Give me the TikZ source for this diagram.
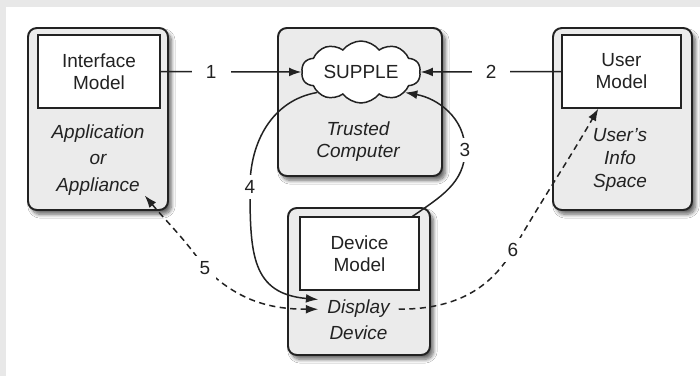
\documentclass[tikz,border=0pt]{standalone}
\usepackage{fontspec}
\setmainfont{Liberation Sans}
\usetikzlibrary{shapes.symbols,arrows.meta,shadows.blur}

\definecolor{boxgray}{HTML}{EBEBEB}
\definecolor{inkgray}{HTML}{222222}
\definecolor{pagegray}{HTML}{E8E8E8}

\tikzset{
  outerbox/.style={draw=inkgray,line width=1.1pt,rounded corners=5pt,fill=boxgray,
    blur shadow={shadow xshift=2pt,shadow yshift=-2.5pt,shadow blur steps=8,shadow opacity=60}},
  innerbox/.style={draw=inkgray,line width=0.6pt,fill=white,minimum width=2.4cm,minimum height=1.46cm},
  slanted/.style={font=\fontsize{10.8}{15}\selectfont\itshape,inner sep=0pt},
  flow/.style={line width=0.85pt,draw=inkgray,-{Latex[length=7pt,width=5pt]}},
  twoway/.style={line width=0.85pt,draw=inkgray,dash pattern=on 3.5pt off 2.5pt,
    {Latex[length=7pt,width=5pt]}-{Latex[length=7pt,width=5pt]}},
  oneway/.style={line width=0.85pt,draw=inkgray,dash pattern=on 3.5pt off 2.5pt,
    -{Latex[length=7pt,width=5pt]}},
  num/.style={fill=white,inner sep=3pt}
}

\begin{document}
\begin{tikzpicture}
    [x=0.02cm,y=-0.02cm,every node/.style={font=\fontsize{10.8}{12.5}\selectfont,text=inkgray,align=center}]
      \fill[pagegray] (0,0) rectangle (700,376);
      \fill[white] (6,7) rectangle (700,376);
      \useasboundingbox (0,0) rectangle (700,376);

      % the four machines
      \node (appl)[outerbox,minimum width=2.8cm,minimum height=3.64cm]  at (98,119)    {};
      \node (trust)[outerbox,minimum width=3.28cm,minimum height=2.96cm] at (360,102)  {};
      \node (info)[outerbox,minimum width=2.78cm,minimum height=3.64cm]  at (622.5,119) {};
      \node (dev)[outerbox,minimum width=2.84cm,minimum height=2.94cm]   at (359,281.5) {};

      \node (intf)[innerbox,minimum width=2.44cm] at (99,71.5)     {Interface\\Model};
      \node (usrm)[innerbox,minimum width=2.38cm] at (621.5,71.5)  {User\\Model};
      \node (devm)[innerbox,minimum width=2.38cm] at (359.5,253.5) {Device\\Model};

      \node (supple)[cloud,cloud puffs=10,cloud puff arc=105,cloud ignores aspect,draw=inkgray,
        line width=0.85pt,fill=white,minimum width=2.38cm,minimum height=1.24cm,inner sep=0pt]
        at (361,72) {SUPPLE};

      \node (apptext)[slanted]  at (98,160)  {Application\\or\\Appliance};
      \node (trusttext)[slanted,font=\fontsize{10.8}{12.5}\selectfont\itshape] at (358,142) {Trusted\\Computer};
      \node (infotext)[slanted,font=\fontsize{10.8}{13}\selectfont\itshape]    at (620,160) {User's\\Info\\Space};
      \node (disp)[slanted,inner xsep=5pt] at (358.5,320) {Display\\Device};

      % numbered steps
      \draw[flow] (intf.east) -- node[num,inner xsep=8pt,pos=0.36] {1} (supple.west);
      \draw[flow] (usrm.west) -- node[num,inner xsep=8pt] {2} (supple.east);
      \draw[flow] (devm.35) to[out=35,in=-90] node[num,pos=1] {3} (465,150)
                  to[out=90,in=-10] (supple.-25);
      \draw[flow] (supple.205) to[out=190,in=90] node[num,pos=1] {4} (250,187)
                  to[out=-90,in=175,looseness=1.3] (disp.north west);
      \draw[twoway] (apptext.south east) to[out=-50,in=125] node[num,pos=1] {5} (205,268)
                  to[out=-45,in=180] (disp.165);
      \draw[oneway] (disp.15) to[out=0,in=-120] node[num,pos=1] {6} (513,250)
                  to[out=60,in=-120] (usrm.-122);
    \end{tikzpicture}
\end{document}
